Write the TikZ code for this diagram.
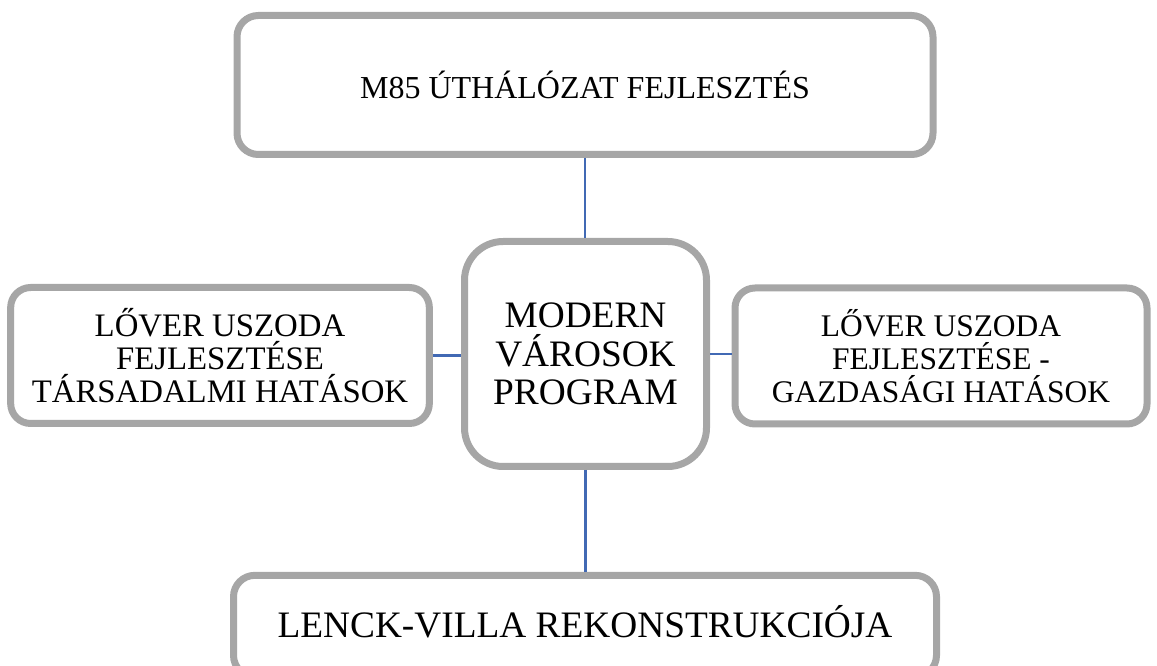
\documentclass[tikz,border=0pt]{standalone}
\usepackage{fontspec}
\setmainfont{Liberation Serif}
\usetikzlibrary{positioning}
\definecolor{boxgray}{RGB}{166,166,166}
\definecolor{linkblue}{RGB}{65,105,180}
\tikzset{
  box/.style={
    draw=boxgray, line width=5.25pt, fill=white,
    align=center, inner sep=0pt,
  },
  sidebox/.style={
    box, rounded corners=15pt, minimum width=314pt, minimum height=102pt,
    font=\fontsize{24.6}{24.6}\selectfont,
  },
  link/.style={draw=linkblue, line width=2pt},
}

\begin{document}
\begin{tikzpicture}[x=0.75pt,y=-0.75pt]
  \useasboundingbox (0,0) rectangle (1157,666);

  % the main programme in the middle
  \node[box, rounded corners=29pt, minimum width=181.5pt, minimum height=168.75pt,
        font=\fontsize{28}{29}\selectfont] (program) at (585.5,354) {MODERN\\VÁROSOK\\PROGRAM};

  % projects round it
  \node[box, rounded corners=16pt, minimum width=522pt, minimum height=104.25pt,
        font=\fontsize{24}{26}\selectfont] (uthalozat) at (585,85) {M85 ÚTHÁLÓZAT FEJLESZTÉS};
  \node[sidebox] (tarsadalmi) at (220,355.5) {LŐVER USZODA\\FEJLESZTÉSE\\TÁRSADALMI HATÁSOK};
  \node[sidebox, minimum width=309pt, font=\fontsize{23.6}{24.6}\selectfont] (gazdasagi) at (941,356)
        {LŐVER USZODA\\FEJLESZTÉSE -\\GAZDASÁGI HATÁSOK};
  \node[box, rounded corners=16pt, minimum width=527.25pt, minimum height=76pt, text depth=7.5pt,
        font=\fontsize{28}{30}\selectfont] (lenck) at (585,626) {LENCK-VILLA REKONSTRUKCIÓJA};

  \draw[link] (uthalozat.south) -- (uthalozat.south |- program.north);
  \draw[link] (program.south) -- (program.south |- lenck.north);
  \draw[link] (tarsadalmi.east) -- (tarsadalmi.east -| program.west);
  \draw[link] (program.east) -- (program.east -| gazdasagi.west);

\end{tikzpicture}
\end{document}
